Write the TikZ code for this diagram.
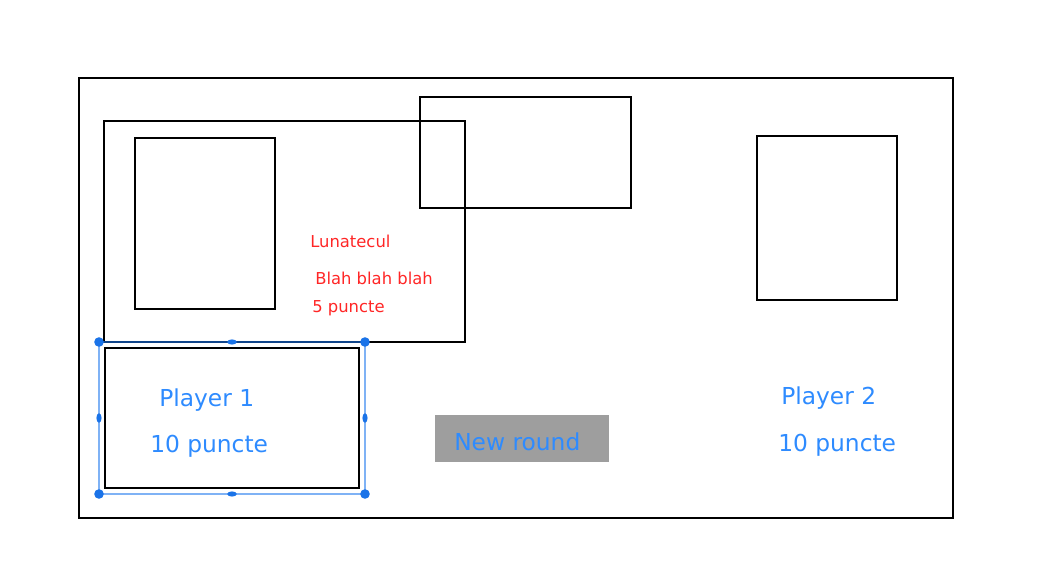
\documentclass[tikz,border=0pt]{standalone}
\usepackage{fontspec}
\setmainfont{DejaVu Sans}
\usepackage{tikz}
\usetikzlibrary{positioning}

\definecolor{txtblue}{HTML}{2E8BFF}
\definecolor{txtred}{HTML}{FF2626}
\definecolor{selblue}{HTML}{7FB2F5}
\definecolor{handleblue}{HTML}{1A73E8}
\definecolor{btngray}{HTML}{9E9E9E}

\begin{document}
\begin{tikzpicture}[x=0.75pt, y=-0.75pt,
    frame/.style={draw=black, line width=1.5pt},
    bigtext/.style={text=txtblue, font=\fontsize{17.5}{20}\selectfont, anchor=west, inner sep=0pt},
    smalltext/.style={text=txtred, font=\fontsize{12.3}{14}\selectfont, anchor=west, inner sep=0pt},
    handle/.style={fill=handleblue, draw=none}
    ]
    \useasboundingbox (0,0) rectangle (1051,583);

    % boxes
    \draw[frame] (79,78) rectangle (953,518);
    \draw[frame] (104,121) rectangle (465,342);
    \draw[frame] (135,138) rectangle (275,309);
    \draw[frame] (420,97) rectangle (631,208);
    \draw[frame] (757,136) rectangle (897,300);
    \draw[frame] (105,348) rectangle (359,488);

    % selection around player 1
    \draw[selblue, line width=1.2pt] (99,342) rectangle (365,494);
    \draw[handleblue!60!black, line width=1.2pt] (99,342) -- (365,342);
    \foreach \p in {(99,342),(365,342),(99,494),(365,494)}
        \fill[handle] \p circle (4.8);
    \foreach \p in {(232,342),(232,494)}
        \fill[handle] \p ellipse (4.8 and 2.6);
    \foreach \p in {(99,418),(365,418)}
        \fill[handle] \p ellipse (2.6 and 4.8);

    % texts
    \node[smalltext] (name)  at (310,241) {Lunatecul};
    \node[smalltext] (blah)  at (315,278) {Blah blah blah};
    \node[smalltext] (score) at (312,308) {5 puncte};

    \node[bigtext] (p1)  at (159,400) {Player 1};
    \node[bigtext] (p1s) at (150,446) {10 puncte};
    \node[bigtext] (p2)  at (781,398) {Player 2};
    \node[bigtext] (p2s) at (778,445) {10 puncte};

    \fill[btngray] (435,415) rectangle (609,462);
    \node[bigtext] (round) at (454,442) {New round};
\end{tikzpicture}
\end{document}
